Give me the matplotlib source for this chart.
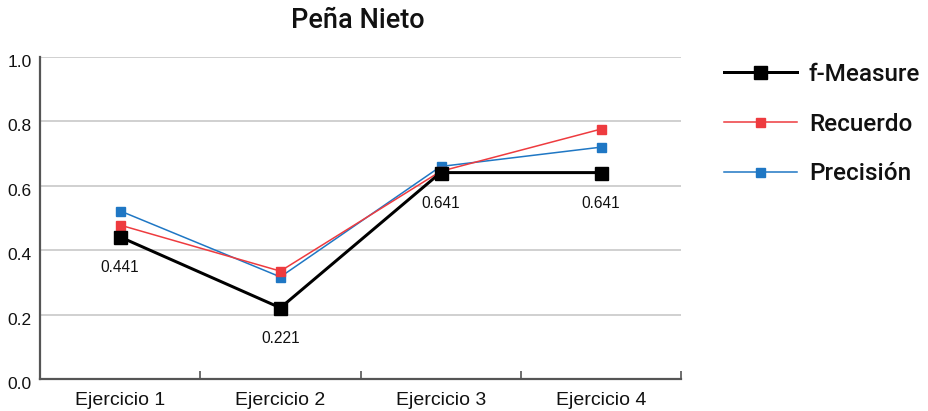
import matplotlib
matplotlib.use("Agg")
import matplotlib.pyplot as plt
from matplotlib.transforms import ScaledTranslation

plt.rcParams['font.family'] = ['Liberation Sans', 'DejaVu Sans']

categories = ["Ejercicio 1", "Ejercicio 2", "Ejercicio 3", "Ejercicio 4"]
f_measure = [0.441, 0.221, 0.641, 0.641]
recuerdo = [0.478, 0.335, 0.645, 0.776]
precision = [0.522, 0.317, 0.660, 0.720]
y_ticks = [0.0, 0.2, 0.4, 0.6, 0.8, 1.0]

PX = 0.72  # points per pixel at 100 dpi
TEXT = "#111111"
HEAVY = ['Roboto', 'Liberation Sans', 'DejaVu Sans']

fig = plt.figure(figsize=(9.29, 4.11), dpi=100)
ax = fig.add_axes([40 / 929, 1 - 379 / 411, 641 / 929, 322 / 411])

x = list(range(1, len(categories) + 1))

ax.plot(x, precision, color="#1f77c4", lw=1.1, marker="s", ms=9 * PX,
        mec="#1f77c4", label="Precisión", zorder=3)
ax.plot(x, recuerdo, color="#ee3b3f", lw=1.1, marker="s", ms=9 * PX,
        mec="#ee3b3f", label="Recuerdo", zorder=4)
ax.plot(x, f_measure, color="black", lw=3 * PX, marker="s", ms=13 * PX,
        label="f-Measure", zorder=5)

for xi, v in zip(x, f_measure):
    ax.annotate(f"{v:.3f}", (xi, v), xytext=(0, -22), textcoords="offset points",
                ha="center", va="center", fontsize=11.2, color=TEXT)

ax.set_xlim(0.5, 4.5)
ax.set_ylim(0, 1.0)
ax.set_yticks(y_ticks)
ax.set_yticklabels([f"{t:.1f}" for t in y_ticks])
ax.yaxis.grid(True, color="#c8c8c8", lw=1.2)
ax.set_axisbelow(True)

ax.set_xticks([1.5, 2.5, 3.5, 4.5])
ax.set_xticklabels([])
ax.set_xticks(x, minor=True)
ax.set_xticklabels(categories, minor=True)
ax.tick_params(axis="x", which="major", direction="in", length=6, width=1.2,
               color="#555555")
ax.tick_params(axis="x", which="minor", length=0, pad=9,
               labelsize=14, labelcolor=TEXT)
ax.tick_params(axis="y", length=0, pad=6, labelsize=12.5,
               labelcolor=TEXT)

shift = ScaledTranslation(0, -4 / 100, fig.dpi_scale_trans)
for lbl in ax.get_yticklabels():
    lbl.set_transform(lbl.get_transform() + shift)

for s in ["top", "right"]:
    ax.spines[s].set_visible(False)
for s in ["left", "bottom"]:
    ax.spines[s].set_color("#555555")
    ax.spines[s].set_linewidth(1.6)

fig.text(358 / 929, 1 - 21 / 411, "Peña Nieto", ha="center", va="center",
         fontsize=19.5, color=TEXT, family=HEAVY, fontweight="medium")

handles, labels = ax.get_legend_handles_labels()
order = [2, 1, 0]
leg = fig.legend([handles[i] for i in order], [labels[i] for i in order],
                 loc="upper left", bbox_to_anchor=(702 / 929, 1 - 41 / 411),
                 frameon=False, handlelength=3.0, handletextpad=0.5,
                 labelspacing=1.1,
                 prop={"family": HEAVY, "weight": "medium", "size": 17.5})
for t in leg.get_texts():
    t.set_color(TEXT)

fig.savefig("out.png", dpi=100)
